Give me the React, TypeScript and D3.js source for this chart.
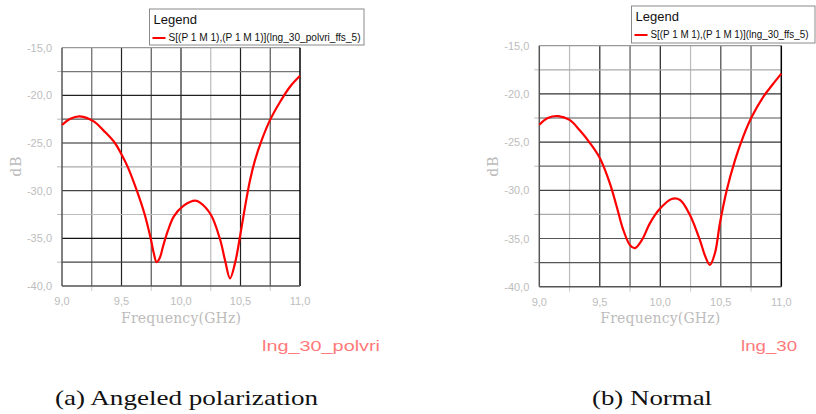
import React, { useEffect, useRef } from 'react';
import * as d3 from 'd3';

// frequency samples (GHz) and return loss (dB)
const freqA = [9.0, 9.07, 9.15, 9.27, 9.35, 9.445, 9.5, 9.552, 9.629, 9.695, 9.745, 9.772, 9.795, 9.82, 9.85, 9.89, 9.94, 10.02, 10.12, 10.16, 10.25, 10.328, 10.37, 10.412, 10.454, 10.496, 10.538, 10.58, 10.622, 10.678, 10.748, 10.832, 10.916, 11.0];
const dbA = [-23.1, -22.45, -22.2, -22.75, -23.7, -25.0, -26.2, -27.5, -30.0, -32.5, -35.0, -36.6, -37.5, -37.1, -35.8, -34.2, -32.7, -31.6, -31.05, -31.25, -32.5, -35.1, -37.3, -39.2, -37.6, -34.8, -31.7, -28.9, -26.8, -24.7, -22.6, -20.7, -19.1, -17.95];

const freqB = [9.0, 9.07, 9.157, 9.25, 9.336, 9.419, 9.502, 9.584, 9.64, 9.694, 9.75, 9.79, 9.846, 9.915, 9.998, 10.094, 10.163, 10.245, 10.328, 10.37, 10.41, 10.452, 10.493, 10.549, 10.617, 10.686, 10.755, 10.851, 10.93, 11.0];
const dbB = [-23.2, -22.5, -22.3, -22.7, -23.8, -25.1, -26.7, -29.3, -31.7, -34.1, -35.7, -36.0, -35.2, -33.4, -31.9, -30.9, -31.0, -32.56, -35.2, -36.8, -37.75, -36.5, -33.4, -30.0, -26.9, -24.4, -22.4, -20.3, -19.0, -17.9];

const xTicks = [9.0, 9.5, 10.0, 10.5, 11.0];
const yTicks = [-15, -20, -25, -30, -35, -40];
const xGrid = [9.25, 9.5, 9.75, 10.0, 10.25, 10.5, 10.75];
const yGrid = [-17.5, -20, -22.5, -25, -27.5, -30, -32.5, -35, -37.5];

const legendA = 'S[(P 1 M 1),(P 1 M 1)](lng_30_polvri_ffs_5)';
const legendB = 'S[(P 1 M 1),(P 1 M 1)](lng_30_ffs_5)';
const tagA = 'lng_30_polvri';
const tagB = 'lng_30';
const captionA = '(a)  Angeled polarization';
const captionB = '(b)  Normal';

// shades of the grid lines, as the screenshot shows them
const shadesA = { v: ['#666', '#222', '#555', '#222', '#bbb', '#222', '#555'], h: ['#777', '#222', '#555', '#222', '#aaa', '#444', '#bbb', '#111', '#444'] };
const shadesB = { v: ['#bbb', '#222', '#555', '#222', '#bbb', '#444', '#555'], h: ['#aaa', '#333', '#555', '#333', '#666', '#444', '#aaa', '#555', '#555'] };

const sans = "'Liberation Sans', Arial, sans-serif";
const fmt = (v: number) => v.toFixed(1).replace('.', ',');

function drawPanel(svg: any, p: any) {
  const x = d3.scaleLinear().domain([9, 11]).range([p.left, p.right]);
  const y = d3.scaleLinear().domain([-40, -15]).range([p.bottom, p.top]);
  const g = svg.append('g');

  // minor tick stubs outside the frame
  g.append('g').selectAll('line').data(yGrid.filter(d => d % 5 !== 0)).join('line')
    .attr('x1', p.left - 5).attr('x2', p.left).attr('y1', d => y(d)).attr('y2', d => y(d))
    .attr('stroke', '#bbb');
  g.append('g').selectAll('line').data(xGrid.filter(d => d % 0.5 !== 0)).join('line')
    .attr('x1', d => x(d)).attr('x2', d => x(d)).attr('y1', p.bottom).attr('y2', p.bottom + 5)
    .attr('stroke', '#ccc');

  g.append('g').selectAll('line').data(xGrid).join('line')
    .attr('x1', d => x(d)).attr('x2', d => x(d)).attr('y1', p.top).attr('y2', p.bottom)
    .attr('stroke', (d, i) => p.shades.v[i]).attr('stroke-width', 1.2);
  g.append('g').selectAll('line').data(yGrid).join('line')
    .attr('x1', p.left).attr('x2', p.right).attr('y1', d => y(d)).attr('y2', d => y(d))
    .attr('stroke', (d, i) => p.shades.h[i]).attr('stroke-width', 1.2);

  // frame
  g.append('line').attr('x1', p.left).attr('x2', p.right).attr('y1', p.top).attr('y2', p.top).attr('stroke', '#999').attr('stroke-width', 1.2);
  g.append('line').attr('x1', p.right).attr('x2', p.right).attr('y1', p.top).attr('y2', p.bottom).attr('stroke', '#000').attr('stroke-width', 1.5);
  g.append('line').attr('x1', p.left).attr('x2', p.left).attr('y1', p.top).attr('y2', p.bottom).attr('stroke', '#555').attr('stroke-width', 1.5);
  g.append('line').attr('x1', p.left).attr('x2', p.right).attr('y1', p.bottom).attr('y2', p.bottom).attr('stroke', '#555').attr('stroke-width', 1.5);

  // tick labels
  g.append('g').selectAll('text').data(yTicks).join('text')
    .attr('x', p.left - 10).attr('y', d => y(d) + 4)
    .attr('text-anchor', 'end').attr('font-family', sans)
    .attr('font-size', 11).attr('fill', '#bdbdbd').text(fmt);
  g.append('g').selectAll('text').data(xTicks).join('text')
    .attr('x', d => x(d)).attr('y', p.bottom + 19)
    .attr('text-anchor', 'middle').attr('font-family', sans)
    .attr('font-size', 11).attr('fill', '#bdbdbd').text(fmt);

  // axis titles
  g.append('text').attr('x', (p.left + p.right) / 2).attr('y', 323)
    .attr('text-anchor', 'middle').attr('font-family', "'DejaVu Serif', serif")
    .attr('font-size', 14).attr('fill', '#bcbcbc')
    .attr('textLength', 120).attr('lengthAdjust', 'spacing').text('Frequency(GHz)');
  g.append('text').attr('transform', `translate(${p.left - 41},166) rotate(-90)`)
    .attr('text-anchor', 'middle').attr('font-family', "'DejaVu Serif', serif")
    .attr('font-size', 14).attr('fill', '#bcbcbc').attr('letter-spacing', 1).text('dB');

  // curve
  const line = d3.line<number>()
    .x((d, i) => x(p.freq[i]))
    .y(d => y(d))
    .curve(d3.curveCatmullRom.alpha(0.5));
  g.append('path').attr('d', line(p.db)).attr('fill', 'none')
    .attr('stroke', '#ff0000').attr('stroke-width', 2.2);

  // legend box
  const lg = p.legend;
  g.append('rect').attr('x', lg.x).attr('y', lg.y).attr('width', lg.w).attr('height', lg.h)
    .attr('fill', '#fff').attr('stroke', '#8a8a8a');
  g.append('text').attr('x', lg.x + 4).attr('y', lg.y + 15)
    .attr('font-family', sans).attr('font-size', 13).attr('fill', '#111').text('Legend');
  g.append('line').attr('x1', lg.x + 3).attr('x2', lg.x + 16).attr('y1', lg.y + 29).attr('y2', lg.y + 29)
    .attr('stroke', '#ff0000').attr('stroke-width', 2);
  g.append('text').attr('x', lg.x + 19).attr('y', lg.y + 32)
    .attr('font-family', sans).attr('font-size', lg.fs).attr('fill', '#111')
    .attr('textLength', lg.tl).attr('lengthAdjust', 'spacingAndGlyphs').text(lg.text);

  // run name tag
  g.append('text').attr('x', p.tag.x).attr('y', 351)
    .attr('font-family', sans).attr('font-size', 15).attr('fill', '#ff7a7a')
    .attr('textLength', p.tag.tl).attr('lengthAdjust', 'spacingAndGlyphs').text(p.tag.text);

  // caption
  g.append('text').attr('x', p.cap.x).attr('y', 405)
    .attr('font-family', "'Liberation Serif', 'Times New Roman', serif").attr('font-size', 22).attr('fill', '#111')
    .attr('textLength', p.cap.tl).attr('lengthAdjust', 'spacingAndGlyphs').text(p.cap.text);
}

export default function App() {
  const ref = useRef<SVGSVGElement>(null);

  useEffect(() => {
    const svg = d3.select(ref.current);
    svg.selectAll('*').remove();
    svg.append('rect').attr('width', 816).attr('height', 414).attr('fill', '#fff');

    drawPanel(svg, {
      left: 62, right: 300, top: 47.7, bottom: 286,
      freq: freqA, db: dbA, shades: shadesA,
      legend: { x: 149.5, y: 9, w: 214.5, h: 36, text: legendA, tl: 192, fs: 10.5 },
      tag: { x: 262, text: tagA, tl: 118 },
      cap: { x: 55, text: captionA, tl: 263 },
    });
    drawPanel(svg, {
      left: 539.3, right: 781.3, top: 45.7, bottom: 286.7,
      freq: freqB, db: dbB, shades: shadesB,
      legend: { x: 631.5, y: 6, w: 183.5, h: 37, text: legendB, tl: 158, fs: 10 },
      tag: { x: 741, text: tagB, tl: 56 },
      cap: { x: 592, text: captionB, tl: 120 },
    });
  }, []);

  return (
    <svg ref={ref} width={816} height={414}
      style={{ position: 'absolute', left: 0, top: 0, display: 'block' }} />
  );
}
